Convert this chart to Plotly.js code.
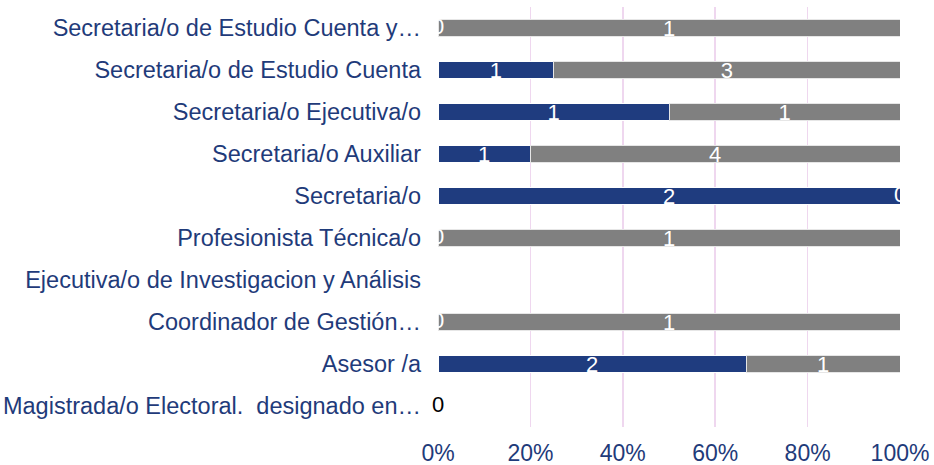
<!DOCTYPE html>
<html>
<head>
<meta charset="utf-8">
<script src="https://cdn.plot.ly/plotly-3.0.1.min.js"></script>
<style>html,body{margin:0;padding:0;background:#fff;}#chart{width:934px;height:465px;}</style>
</head>
<body>
<div id="chart"></div>
<script>
// Categories listed bottom to top
const categories = [
  "Magistrada/o Electoral.  designado en…",
  "Asesor /a",
  "Coordinador de Gestión…",
  "Ejecutiva/o de Investigacion y Análisis",
  "Profesionista Técnica/o",
  "Secretaria/o",
  "Secretaria/o Auxiliar",
  "Secretaria/o Ejecutiva/o",
  "Secretaria/o de Estudio Cuenta",
  "Secretaria/o de Estudio Cuenta y…"
];
const seriesBlue = [0, 2, 0, 0, 0, 2, 1, 1, 1, 0];
const seriesGray = [0, 1, 1, 0, 1, 0, 4, 1, 3, 1];
const xTickVals = [0, 20, 40, 60, 80, 100];
const xTickText = ["0%", "20%", "40%", "60%", "80%", "100%"];

const navy = '#1F3C7F';
const labelColor = '#1F3B7A';
const fam = 'Liberation Sans, Arial, sans-serif';

// zero-value labels (Plotly does not draw text on zero-width bars)
const zx = [], zy = [], zc = [];
categories.forEach((c, i) => {
  const tot = seriesBlue[i] + seriesGray[i];
  const pBlue = tot ? seriesBlue[i] / tot * 100 : 0;
  if (seriesBlue[i] === 0) { zx.push(0); zy.push(c); zc.push(tot === 0 && i === 0 ? '#000000' : '#ffffff'); }
  if (seriesGray[i] === 0 && tot > 0) { zx.push(pBlue); zy.push(c); zc.push('#ffffff'); }
});

const data = [
  {
    type: 'bar', orientation: 'h', y: categories, x: seriesBlue,
    marker: {color: navy, line: {color: '#ffffff', width: 1}},
    text: seriesBlue.map(String), textposition: 'inside', insidetextanchor: 'middle',
    textangle: 0, constraintext: 'none',
    textfont: {color: '#ffffff', size: 22, family: fam},
    hoverinfo: 'none', showlegend: false, cliponaxis: false
  },
  {
    type: 'bar', orientation: 'h', y: categories, x: seriesGray,
    marker: {color: '#808080', line: {color: '#E6E6E6', width: 1}},
    text: seriesGray.map(String), textposition: 'inside', insidetextanchor: 'middle',
    textangle: 0, constraintext: 'none',
    textfont: {color: '#ffffff', size: 22, family: fam},
    hoverinfo: 'none', showlegend: false, cliponaxis: false
  },
  {
    type: 'scatter', mode: 'text', x: zx, y: zy,
    text: zx.map(() => '0'), textposition: 'middle center',
    textfont: {color: zc, size: 22, family: fam},
    hoverinfo: 'none', showlegend: false, cliponaxis: false
  }
];

const layout = {
  width: 934, height: 465,
  margin: {l: 438, r: 34, t: 7, b: 38},
  paper_bgcolor: '#ffffff', plot_bgcolor: '#ffffff',
  barmode: 'stack', barnorm: 'percent', bargap: 0.6,
  font: {family: fam, color: labelColor},
  uniformtext: {mode: false},
  xaxis: {
    range: [0, 100], tickvals: xTickVals, ticktext: xTickText,
    showgrid: true, gridcolor: '#EFD7EF', gridwidth: 1.5, zeroline: false,
    showline: false, ticks: '', tickfont: {size: 23, color: labelColor},
    ticklabelstandoff: 10, fixedrange: true
  },
  yaxis: {
    type: 'category', categoryorder: 'array', categoryarray: categories,
    showgrid: false, zeroline: false, showline: false, ticks: '',
    tickfont: {size: 23.5, color: labelColor}, ticklabelstandoff: 16,
    automargin: false, fixedrange: true
  }
};

Plotly.newPlot('chart', data, layout, {displayModeBar: false, staticPlot: true});
</script>
</body>
</html>
